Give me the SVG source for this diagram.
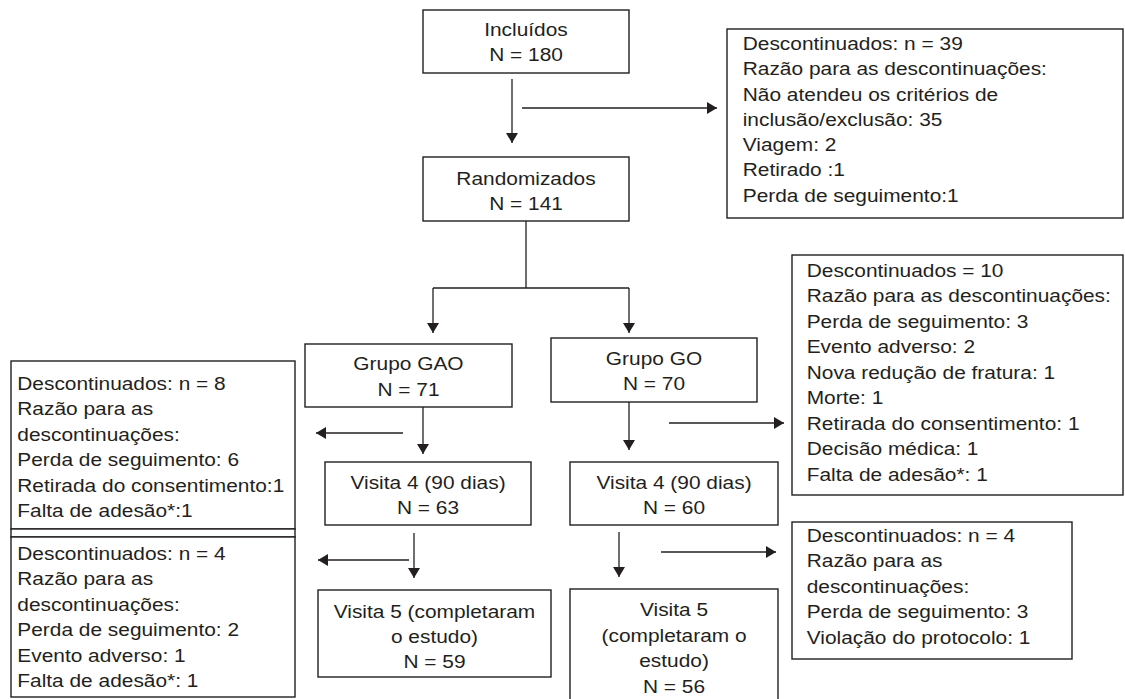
<svg xmlns="http://www.w3.org/2000/svg" width="1125" height="699" viewBox="0 0 1125 699">
<style>
.box{fill:#fff;stroke:#231f20;stroke-width:1.4}
.ln{fill:none;stroke:#231f20;stroke-width:1.3}
text{font-family:"Liberation Sans",Arial,Helvetica,sans-serif;font-size:18.5px;fill:#231f20}
.c{text-anchor:middle}
</style>
<defs>
<marker id="ah" markerUnits="userSpaceOnUse" markerWidth="12" markerHeight="12" refX="10" refY="6" orient="auto">
<path d="M0,0 L10,6 L0,12 Z" fill="#231f20"/>
</marker>
</defs>
<rect width="1125" height="699" fill="#fff"/>

<g id="connectors">
<line class="ln" x1="512" y1="79" x2="512" y2="143" marker-end="url(#ah)"/>
<line class="ln" x1="522" y1="108" x2="717" y2="108" marker-end="url(#ah)"/>
<path class="ln" d="M526,221 V288 M433,288 H629"/>
<line class="ln" x1="433" y1="288" x2="433" y2="333" marker-end="url(#ah)"/>
<line class="ln" x1="629" y1="288" x2="629" y2="333" marker-end="url(#ah)"/>
<line class="ln" x1="423" y1="407" x2="423" y2="454" marker-end="url(#ah)"/>
<line class="ln" x1="403" y1="433" x2="316" y2="433" marker-end="url(#ah)"/>
<line class="ln" x1="629" y1="402" x2="629" y2="450" marker-end="url(#ah)"/>
<line class="ln" x1="669" y1="423" x2="784" y2="423" marker-end="url(#ah)"/>
<line class="ln" x1="414" y1="533" x2="414" y2="578" marker-end="url(#ah)"/>
<line class="ln" x1="409" y1="560" x2="318" y2="560" marker-end="url(#ah)"/>
<line class="ln" x1="619" y1="532" x2="619" y2="577" marker-end="url(#ah)"/>
<line class="ln" x1="661" y1="552" x2="776" y2="552" marker-end="url(#ah)"/>
</g>

<g id="incluidos">
<rect class="box" x="423" y="10" width="206" height="63"/>
<g transform="scale(1.13,1)"><text class="c" x="465.5" y="36">Incluídos</text><text class="c" x="465.5" y="61.5">N = 180</text></g>
</g>

<g id="desc39">
<rect class="box" x="727" y="29" width="396" height="189"/>
<g transform="scale(1.13,1)">
<text x="657.3" y="50">Descontinuados: n = 39</text>
<text x="657.3" y="75.3">Razão para as descontinuações:</text>
<text x="657.3" y="100.6">Não atendeu os critérios de</text>
<text x="657.3" y="125.9">inclusão/exclusão: 35</text>
<text x="657.3" y="151.2">Viagem: 2</text>
<text x="657.3" y="176.5">Retirado :1</text>
<text x="657.3" y="201.8">Perda de seguimento:1</text>
</g>
</g>

<g id="randomizados">
<rect class="box" x="423" y="157" width="206" height="64"/>
<g transform="scale(1.13,1)"><text class="c" x="465.5" y="185.5">Randomizados</text><text class="c" x="465.5" y="210">N = 141</text></g>
</g>

<g id="grupo-gao">
<rect class="box" x="305" y="344" width="207" height="63"/>
<g transform="scale(1.13,1)"><text class="c" x="361.5" y="370.5">Grupo GAO</text><text class="c" x="361.5" y="396">N = 71</text></g>
</g>

<g id="grupo-go">
<rect class="box" x="551" y="338" width="206" height="64"/>
<g transform="scale(1.13,1)"><text class="c" x="578.8" y="365">Grupo GO</text><text class="c" x="578.8" y="390.5">N = 70</text></g>
</g>

<g id="desc10">
<rect class="box" x="792" y="255" width="331" height="240"/>
<g transform="scale(1.13,1)">
<text x="713.9" y="276.7">Descontinuados = 10</text>
<text x="713.9" y="302.2">Razão para as descontinuações:</text>
<text x="713.9" y="327.7">Perda de seguimento: 3</text>
<text x="713.9" y="353.2">Evento adverso: 2</text>
<text x="713.9" y="378.7">Nova redução de fratura: 1</text>
<text x="713.9" y="404.2">Morte: 1</text>
<text x="713.9" y="429.7">Retirada do consentimento: 1</text>
<text x="713.9" y="455.2">Decisão médica: 1</text>
<text x="713.9" y="480.7">Falta de adesão*: 1</text>
</g>
</g>

<g id="desc8">
<rect class="box" x="11" y="361" width="284" height="168"/>
<g transform="scale(1.13,1)">
<text x="15.3" y="390">Descontinuados: n = 8</text>
<text x="15.3" y="415.5">Razão para as</text>
<text x="15.3" y="441">descontinuações:</text>
<text x="15.3" y="466.5">Perda de seguimento: 6</text>
<text x="15.3" y="492">Retirada do consentimento:1</text>
<text x="15.3" y="517.5">Falta de adesão*:1</text>
</g>
</g>

<g id="divider">
<rect class="box" x="11" y="529" width="284" height="8"/>
</g>

<g id="desc4-gao">
<rect class="box" x="11" y="537" width="284" height="160"/>
<g transform="scale(1.13,1)">
<text x="15.3" y="560">Descontinuados: n = 4</text>
<text x="15.3" y="585.5">Razão para as</text>
<text x="15.3" y="611">descontinuações:</text>
<text x="15.3" y="636.5">Perda de seguimento: 2</text>
<text x="15.3" y="662">Evento adverso: 1</text>
<text x="15.3" y="687.5">Falta de adesão*: 1</text>
</g>
</g>

<g id="visita4-gao">
<rect class="box" x="325" y="462" width="206" height="63"/>
<g transform="scale(1.13,1)"><text class="c" x="378.8" y="489">Visita 4 (90 dias)</text><text class="c" x="378.8" y="514">N = 63</text></g>
</g>

<g id="visita4-go">
<rect class="box" x="570" y="462" width="208" height="63"/>
<g transform="scale(1.13,1)"><text class="c" x="596.5" y="489">Visita 4 (90 dias)</text><text class="c" x="596.5" y="514">N = 60</text></g>
</g>

<g id="desc4-go">
<rect class="box" x="792" y="522" width="280" height="137"/>
<g transform="scale(1.13,1)">
<text x="713.9" y="541.7">Descontinuados: n = 4</text>
<text x="713.9" y="567.2">Razão para as</text>
<text x="713.9" y="592.7">descontinuações:</text>
<text x="713.9" y="618.2">Perda de seguimento: 3</text>
<text x="713.9" y="643.7">Violação do protocolo: 1</text>
</g>
</g>

<g id="visita5-gao">
<rect class="box" x="318" y="590" width="233" height="87"/>
<g transform="scale(1.13,1)"><text class="c" x="384.5" y="618">Visita 5 (completaram</text><text class="c" x="384.5" y="643.5">o estudo)</text><text class="c" x="384.5" y="668.5">N = 59</text></g>
</g>

<g id="visita5-go">
<rect class="box" x="570" y="589" width="208" height="116"/>
<g transform="scale(1.13,1)"><text class="c" x="596.5" y="616.5">Visita 5</text><text class="c" x="596.5" y="642">(completaram o</text><text class="c" x="596.5" y="667.5">estudo)</text><text class="c" x="596.5" y="693">N = 56</text></g>
</g>
</svg>
